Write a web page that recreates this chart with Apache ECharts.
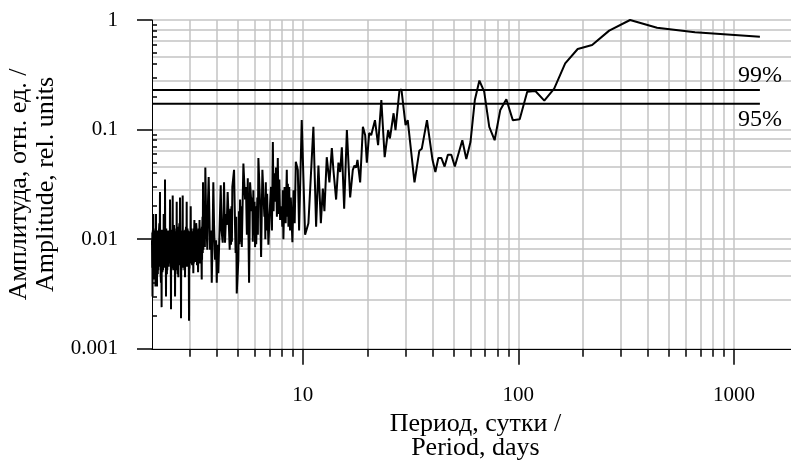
<!DOCTYPE html>
<html>
<head>
<meta charset="utf-8">
<script src="https://cdn.jsdelivr.net/npm/echarts@6/dist/echarts.min.js"></script>
<style>
  html, body { margin: 0; padding: 0; background: #fff; }
  #chart { width: 791px; height: 463px; }
</style>
</head>
<body>
<div id="chart"></div>
<script>
// Periodogram: period (days) and amplitude (rel. units)
const periods = [
  2.000, 2.004, 2.007, 2.011, 2.017, 2.022, 2.028, 2.033, 2.038, 2.043,
  2.048, 2.053, 2.058, 2.064, 2.069, 2.075, 2.079, 2.083, 2.087, 2.094,
  2.102, 2.109, 2.114, 2.119, 2.124, 2.128, 2.133, 2.137, 2.143, 2.149,
  2.155, 2.163, 2.170, 2.178, 2.183, 2.189, 2.194, 2.201, 2.209, 2.216,
  2.220, 2.225, 2.229, 2.236, 2.243, 2.250, 2.255, 2.261, 2.266, 2.274,
  2.282, 2.289, 2.292, 2.295, 2.298, 2.306, 2.315, 2.323, 2.329, 2.334,
  2.340, 2.345, 2.350, 2.355, 2.363, 2.372, 2.380, 2.389, 2.397, 2.406,
  2.412, 2.418, 2.424, 2.433, 2.441, 2.450, 2.456, 2.462, 2.468, 2.477,
  2.486, 2.495, 2.501, 2.506, 2.512, 2.518, 2.524, 2.530, 2.539, 2.549,
  2.558, 2.567, 2.576, 2.585, 2.591, 2.597, 2.604, 2.610, 2.615, 2.621,
  2.630, 2.640, 2.649, 2.656, 2.662, 2.669, 2.678, 2.688, 2.698, 2.708,
  2.717, 2.727, 2.734, 2.740, 2.747, 2.756, 2.766, 2.776, 2.782, 2.788,
  2.794, 2.801, 2.808, 2.816, 2.826, 2.836, 2.846, 2.853, 2.859, 2.866,
  2.876, 2.887, 2.897, 2.903, 2.909, 2.915, 2.923, 2.930, 2.938, 2.949,
  2.959, 2.970, 2.977, 2.984, 2.992, 3.003, 3.013, 3.024, 3.033, 3.041,
  3.050, 3.070, 3.090, 3.110, 3.118, 3.126, 3.133, 3.145, 3.156, 3.167,
  3.186, 3.205, 3.224, 3.233, 3.243, 3.252, 3.261, 3.271, 3.280, 3.294,
  3.308, 3.322, 3.349, 3.375, 3.402, 3.408, 3.414, 3.420, 3.430, 3.440,
  3.449, 3.461, 3.474, 3.486, 3.502, 3.518, 3.535, 3.562, 3.611, 3.639,
  3.664, 3.696, 3.717, 3.757, 3.786, 3.818, 3.850, 3.880, 3.921, 3.963,
  3.993, 4.027, 4.062, 4.114, 4.167, 4.203, 4.257, 4.294, 4.317, 4.363,
  4.410, 4.443, 4.487, 4.554, 4.586, 4.620, 4.652, 4.673, 4.695, 4.717,
  4.804, 4.856, 4.885, 4.915, 4.944, 5.031, 5.061, 5.092, 5.123, 5.155,
  5.187, 5.219, 5.308, 5.404, 5.456, 5.509, 5.562, 5.640, 5.701, 5.806,
  5.838, 5.870, 5.903, 5.940, 5.977, 6.014, 6.050, 6.087, 6.124, 6.159,
  6.195, 6.230, 6.344, 6.413, 6.502, 6.642, 6.676, 6.709, 6.743, 6.792,
  6.840, 6.889, 6.933, 7.060, 7.130, 7.200, 7.270, 7.329, 7.388, 7.447,
  7.520, 7.592, 7.665, 7.729, 7.792, 7.856, 7.991, 8.040, 8.089, 8.138,
  8.238, 8.338, 8.438, 8.487, 8.536, 8.585, 8.659, 8.733, 8.807, 8.958,
  9.069, 9.180, 9.290, 9.491, 9.624, 9.896, 10.26, 10.63, 11.21, 11.54,
  11.83, 12.14, 12.40, 12.61, 12.93, 13.30, 13.65, 13.88, 14.29, 14.65,
  14.92, 15.19, 15.57, 16.03, 16.60, 17.08, 17.38, 17.70, 17.95, 18.47,
  19.02, 19.49, 19.84, 20.34, 20.78, 21.64, 22.37, 23.16, 24.00, 24.91,
  25.38, 26.40, 26.94, 28.09, 28.70, 30.00, 30.70, 33.00, 34.74, 35.68,
  37.71, 40.00, 41.25, 42.58, 44.00, 45.52, 47.14, 48.89, 50.77, 55.00,
  57.39, 60.00, 62.86, 66.00, 69.47, 73.33, 77.65, 82.50, 88.00, 94.29,
  101.5, 110.0, 120.0, 132.0, 146.7, 165.0, 188.6, 220.0, 264.0, 330.0,
  440.0, 660.0, 1320
];
const amplitudes = [
  0.0098, 0.0055, 0.0115, 0.0030, 0.012, 0.0058, 0.017, 0.0052, 0.011, 0.0043,
  0.0120, 0.0060, 0.011, 0.0056, 0.0118, 0.0037, 0.0125, 0.0054, 0.017, 0.0060,
  0.0112, 0.0037, 0.0120, 0.0058, 0.0098, 0.0048, 0.0110, 0.0052, 0.0118, 0.0056,
  0.012, 0.014, 0.0062, 0.027, 0.0058, 0.0115, 0.0047, 0.0040, 0.0105, 0.0024,
  0.0122, 0.0055, 0.0098, 0.0050, 0.0112, 0.0052, 0.0115, 0.0060, 0.017, 0.0055,
  0.0120, 0.0072, 0.0110, 0.0060, 0.035, 0.0058, 0.0118, 0.0030, 0.0125, 0.0052,
  0.011, 0.0048, 0.0105, 0.0052, 0.0115, 0.0058, 0.012, 0.0056, 0.0110, 0.0089,
  0.0120, 0.0062, 0.023, 0.0060, 0.0122, 0.0023, 0.0112, 0.0054, 0.0080, 0.0118,
  0.0058, 0.025, 0.0060, 0.0115, 0.0052, 0.0120, 0.0062, 0.0135, 0.0055, 0.0112,
  0.0030, 0.0118, 0.0056, 0.0098, 0.0125, 0.0064, 0.022, 0.0052, 0.0110, 0.0058,
  0.0048, 0.0105, 0.0045, 0.0130, 0.0060, 0.012, 0.0140, 0.0062, 0.024, 0.0058,
  0.0120, 0.0019, 0.0110, 0.0052, 0.0080, 0.0118, 0.0058, 0.025, 0.0055, 0.0112,
  0.0065, 0.0120, 0.0055, 0.0098, 0.0052, 0.0108, 0.0045, 0.0122, 0.0058, 0.011,
  0.0130, 0.0062, 0.022, 0.0056, 0.0115, 0.0065, 0.0125, 0.0058, 0.012, 0.0060,
  0.0118, 0.0018, 0.0112, 0.0054, 0.0089, 0.0118, 0.0060, 0.020, 0.0062, 0.0125,
  0.0080, 0.0058, 0.0118, 0.0049, 0.0125, 0.0060, 0.0098, 0.0150, 0.0070, 0.0135,
  0.0062, 0.0140, 0.012, 0.0058, 0.0115, 0.0065, 0.0120, 0.0050, 0.0069, 0.0125,
  0.0060, 0.015, 0.0060, 0.0125, 0.0043, 0.0130, 0.0065, 0.012, 0.016, 0.0075,
  0.033, 0.0080, 0.016, 0.011, 0.018, 0.0085, 0.045, 0.018, 0.0080, 0.023,
  0.037, 0.015, 0.0080, 0.012, 0.0040, 0.0098, 0.033, 0.0135, 0.0065, 0.0098,
  0.0040, 0.0089, 0.0049, 0.012, 0.031, 0.012, 0.0093, 0.018, 0.033, 0.0093,
  0.017, 0.0135, 0.027, 0.012, 0.0080, 0.019, 0.0089, 0.020, 0.0095, 0.030,
  0.043, 0.013, 0.0075, 0.016, 0.0032, 0.0065, 0.018, 0.0090, 0.023, 0.0095,
  0.020, 0.0085, 0.049, 0.023, 0.030, 0.011, 0.036, 0.0040, 0.033, 0.018,
  0.024, 0.0095, 0.028, 0.011, 0.022, 0.0085, 0.020, 0.0090, 0.015, 0.024,
  0.011, 0.055, 0.021, 0.0069, 0.043, 0.016, 0.024, 0.010, 0.033, 0.012,
  0.026, 0.015, 0.0089, 0.021, 0.030, 0.012, 0.077, 0.018, 0.040, 0.022,
  0.045, 0.016, 0.055, 0.017, 0.035, 0.015, 0.020, 0.013, 0.028, 0.010,
  0.030, 0.014, 0.043, 0.016, 0.032, 0.013, 0.030, 0.012, 0.024, 0.0094,
  0.028, 0.014, 0.051, 0.043, 0.012, 0.122, 0.011, 0.014, 0.106, 0.013,
  0.047, 0.014, 0.029, 0.018, 0.056, 0.033, 0.068, 0.043, 0.023, 0.050,
  0.041, 0.069, 0.019, 0.099, 0.024, 0.043, 0.047, 0.045, 0.053, 0.033,
  0.106, 0.089, 0.050, 0.093, 0.089, 0.122, 0.072, 0.186, 0.056, 0.099,
  0.083, 0.141, 0.099, 0.226, 0.233, 0.110, 0.122, 0.033, 0.064, 0.067,
  0.122, 0.053, 0.041, 0.055, 0.055, 0.046, 0.059, 0.059, 0.046, 0.080,
  0.054, 0.077, 0.186, 0.28, 0.222, 0.106, 0.080, 0.151, 0.189, 0.122,
  0.124, 0.222, 0.225, 0.184, 0.237, 0.402, 0.544, 0.591, 0.80, 1.0,
  0.85, 0.772, 0.704
];

// significance levels, drawn across the period range of the data
const levelPeriods = [2, 1320];
const level99 = 0.23;
const level95 = 0.172;

const xTickValues = [10, 100, 1000];

const font = 'Liberation Serif';
const gridColor = '#c4c4c4';

var chart = echarts.init(document.getElementById('chart'));

function levelSeries(value, text, pos, dist) {
  return {
    type: 'line',
    data: levelPeriods.map(p => [p, value]),
    symbol: 'circle',
    symbolSize: 0.01,
    showSymbol: true,
    silent: true,
    lineStyle: { color: '#000', width: 2 },
    itemStyle: { color: '#000' },
    label: {
      show: true,
      position: pos,
      distance: dist,
      fontFamily: font,
      fontSize: 24,
      color: '#000',
      formatter: p => (p.dataIndex === levelPeriods.length - 1 ? text : '')
    },
    z: 3
  };
}

option = {
  animation: false,
  backgroundColor: '#fff',
  grid: { left: 152, top: 20, width: 646.8, height: 328.8, outerBoundsMode: 'none' },
  xAxis: {
    type: 'log',
    logBase: 10,
    min: 2,
    max: 2000,
    axisLine: { onZero: false, lineStyle: { color: '#000', width: 1 } },
    axisTick: { length: 16, customValues: xTickValues, lineStyle: { color: '#000', width: 1.5 } },
    minorTick: { show: true, splitNumber: 9, length: 8, lineStyle: { color: '#000', width: 1.5 } },
    axisLabel: {
      customValues: xTickValues,
      margin: 36,
      color: '#000',
      fontFamily: font,
      fontSize: 21,
      formatter: v => String(v)
    },
    splitLine: { show: true, lineStyle: { color: gridColor, width: 1.5 } },
    minorSplitLine: { show: true, lineStyle: { color: gridColor, width: 1.5 } },
    name: 'Период, сутки /\nPeriod, days',
    nameLocation: 'middle',
    nameGap: 60,
    nameTextStyle: { fontFamily: font, fontSize: 26, lineHeight: 24, color: '#000' }
  },
  yAxis: [
    {
      type: 'log',
      logBase: 10,
      min: 0.001,
      max: 1,
      axisLine: { show: true, lineStyle: { color: '#000', width: 1 } },
      axisTick: { show: true, length: 15, lineStyle: { color: '#000', width: 1.5 } },
      axisLabel: { margin: 34, color: '#000', fontFamily: font, fontSize: 21 },
      splitLine: { show: true, lineStyle: { color: gridColor, width: 1.5 } },
      minorSplitLine: { show: true, lineStyle: { color: gridColor, width: 1.5 } },
      name: 'Амплитуда, отн. ед. /\nAmplitude, rel. units',
      nameLocation: 'middle',
      nameRotate: 90,
      nameGap: 90,
      nameTextStyle: { fontFamily: font, fontSize: 26, lineHeight: 27, color: '#000' }
    },
    {
      // minor ticks on the inner side of the y axis
      type: 'log',
      logBase: 10,
      min: 0.001,
      max: 1,
      position: 'left',
      axisLine: { show: false },
      axisTick: { show: false, inside: true },
      axisLabel: { show: false },
      minorTick: { show: true, splitNumber: 9, length: 5, lineStyle: { color: '#000', width: 1.5 } },
      splitLine: { show: false }
    }
  ],
  series: [
    {
      type: 'line',
      data: periods.map((p, i) => [p, amplitudes[i]]),
      symbol: 'none',
      lineStyle: { color: '#000', width: 2 },
      z: 4
    },
    levelSeries(level99, '99%', 'top', 2),
    levelSeries(level95, '95%', 'bottom', 4)
  ]
};

chart.setOption(option);
</script>
</body>
</html>
